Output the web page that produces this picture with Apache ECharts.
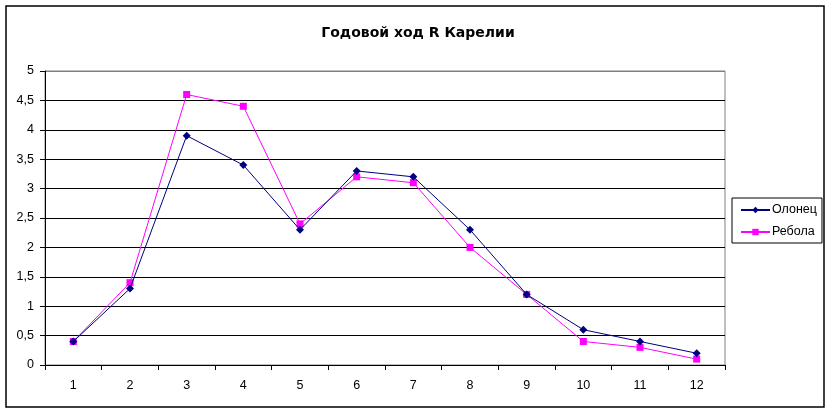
<!DOCTYPE html>
<html>
<head>
<meta charset="utf-8">
<script src="https://cdn.jsdelivr.net/npm/echarts@6/dist/echarts.min.js"></script>
<style>
html,body{margin:0;padding:0;background:#fff;}
#chart{width:829px;height:412px;}
</style>
</head>
<body>
<div id="chart"></div>
<script>
const months = ['1','2','3','4','5','6','7','8','9','10','11','12'];
const olonets = [0.4, 1.3, 3.9, 3.4, 2.3, 3.3, 3.2, 2.3, 1.2, 0.6, 0.4, 0.2];
const rebola  = [0.4, 1.4, 4.6, 4.4, 2.4, 3.2, 3.1, 2.0, 1.2, 0.4, 0.3, 0.1];
const yTicks = { min: 0, max: 5, interval: 0.5 };

const chart = echarts.init(document.getElementById('chart'), null, {renderer: 'canvas'});
const font = 'Liberation Sans, Arial, sans-serif';
const splitColors = [];
for (let i = 0; i < 10; i++) splitColors.push('#000000');
splitColors.push('#808080');

chart.setOption({
  animation: false,
  backgroundColor: '#ffffff',
  title: {
    text: 'Годовой ход R Карелии',
    left: 413, top: 21, textAlign: 'center',
    textStyle: {fontFamily: 'DejaVu Sans, sans-serif', fontSize: 14, fontWeight: 'bold', color: '#000'}
  },
  graphic: [{
    type: 'rect', silent: true,
    shape: {x: 6, y: 6, width: 818, height: 401},
    style: {fill: 'none', stroke: '#000', lineWidth: 1.5}
  }],
  grid: {
    left: 45, right: 104, top: 71, bottom: 47,
    show: true, borderColor: '#808080', borderWidth: 1, backgroundColor: 'transparent'
  },
  legend: {
    orient: 'vertical',
    left: 732, top: 198,
    padding: [5, 5, 4, 8],
    itemGap: 8,
    itemWidth: 29, itemHeight: 8,
    borderColor: '#000', borderWidth: 1,
    textStyle: {fontFamily: font, fontSize: 12.5, color: '#000', padding: [0,0,0,-3], lineHeight: 14},
    data: ['Олонец', 'Ребола']
  },
  xAxis: {
    type: 'category',
    data: months,
    boundaryGap: true,
    axisLine: {lineStyle: {color: '#000', width: 1}},
    axisTick: {show: true, alignWithLabel: false, length: 5, inside: false, lineStyle: {color: '#000'}},
    axisLabel: {fontFamily: font, fontSize: 12.5, color: '#000', margin: 14},
    splitLine: {show: false}
  },
  yAxis: {
    type: 'value',
    min: yTicks.min, max: yTicks.max, interval: yTicks.interval,
    axisLine: {show: true, lineStyle: {color: '#000', width: 1}},
    axisTick: {show: true, length: 5, lineStyle: {color: '#000'}},
    axisLabel: {
      fontFamily: font, fontSize: 12.5, color: '#000', margin: 11,
      formatter: v => String(v).replace('.', ',')
    },
    splitLine: {show: true, lineStyle: {color: splitColors, width: 1}}
  },
  series: [
    {
      name: 'Олонец', type: 'line', data: olonets,
      symbol: 'diamond', symbolSize: 8,
      lineStyle: {color: '#000080', width: 1},
      itemStyle: {color: '#000080'},
      z: 3
    },
    {
      name: 'Ребола', type: 'line', data: rebola,
      symbol: 'rect', symbolSize: 7,
      lineStyle: {color: '#FF00FF', width: 1},
      itemStyle: {color: '#FF00FF'},
      z: 2
    }
  ]
});
</script>
</body>
</html>
